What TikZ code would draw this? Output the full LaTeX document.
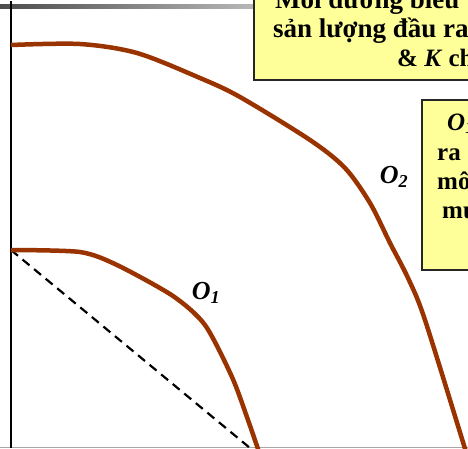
\documentclass[tikz,border=0pt]{standalone}
\usepackage{fontspec}
\setmainfont{Liberation Serif}
\definecolor{curvebrown}{HTML}{993300}
\definecolor{noteyellow}{HTML}{FFFF99}
\tikzset{
  isoquant/.style={curvebrown, line width=4.5pt, line join=round},
  notebox/.style={fill=noteyellow, draw=black!85, line width=1.5pt},
  notetext/.style={anchor=base west, inner sep=0pt, font=\fontsize{25}{30}\selectfont\bfseries},
  widetext/.style={notetext, font=\fontsize{27}{30}\selectfont\bfseries},
  curvelabel/.style={inner sep=0pt, font=\fontsize{26}{30}\selectfont\bfseries\itshape},
}

\begin{document}
\begin{tikzpicture}[x=1pt, y=-1pt]
  \useasboundingbox (0,0) rectangle (468,448);
  \clip (0,0) rectangle (468,448);
  % slide frame and axis
  \shade[left color=gray!60!black, right color=gray!55] (0,4.5) rectangle (256,8.5);
  \draw[gray!70, line width=1.2pt] (0,447.5) -- (468,447.5);
  \draw[line width=2.4pt] (11,1) -- (11,448);

  % isoquants
  \coordinate (q1) at (11,250);
  \coordinate (q2) at (11,45);
  \coordinate (rayend) at (250,448);
  \draw[line width=2.2pt, dash pattern=on 9pt off 6pt] (q1) -- (rayend);
  \draw[isoquant] plot[smooth, tension=0.45] coordinates {(11,250) (80,252) (117,265) (173,296)
    (205,325) (232,377) (248,420) (259,452)};
  \draw[isoquant] plot[smooth, tension=0.5] coordinates {(11,45) (80,44) (137,53) (200,78)
    (240,97) (310,140) (345,168) (370,203) (390,243) (408,278) (425,320) (466,452)};
  \node[curvelabel] (o1lbl) at (206,293) {O\textsubscript{1}};
  \node[curvelabel] (o2lbl) at (394,177) {O\textsubscript{2}};

  % notes
  \draw[notebox] (254,-10) rectangle (480,80);
  \node[widetext] (l1) at (275,8) {Mỗi đường biểu thị};
  \node[widetext] (l2) at (273,37) {sản lượng đầu ra};
  \node[notetext] (l3) at (397,66) {\& \textit{K} cho};
  \draw[notebox] (422,100) rectangle (480,270);
  \node[notetext] (m1) at (447,130) {\textit{O\textsubscript{1}}};
  \node[notetext] (m2) at (437,160) {ra};
  \node[notetext] (m3) at (437,189) {mô};
  \node[notetext] (m4) at (442,218) {mu};
\end{tikzpicture}
\end{document}
